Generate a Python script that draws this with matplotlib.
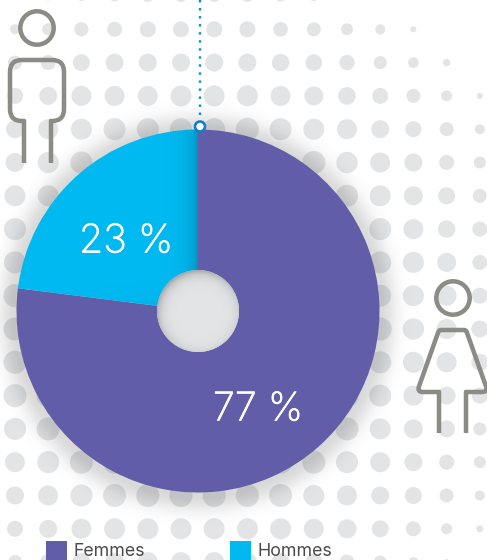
import numpy as np
import matplotlib
matplotlib.use("Agg")
import matplotlib.pyplot as plt
import matplotlib.patheffects as pe
from matplotlib.patches import Circle, Rectangle, PathPatch
from matplotlib.path import Path

# ---- data ----
categories = ["Femmes", "Hommes"]
shares = [77, 23]
labels = ["77 %", "23 %"]
colors = ["#625DA8", "#00B9F1"]

# decorative halftone dots: radius (px) per row / column
dot_x0, dot_dx = 15.0, 33.2
dot_y0, dot_dy = -4.0, 33.3
dot_radii = [
    [4.0, 4.5, 5.0, 5.5, 6.0, 6.0, 6.0, 6.0, 5.5, 5.0, 4.0, 3.0, 0.0, 0.0, 0.0],
    [5.0, 6.0, 7.0, 7.5, 8.0, 8.0, 8.0, 8.0, 7.3, 7.0, 6.0, 5.0, 3.0, 0.0, 0.0],
    [7.0, 7.5, 8.5, 9.0, 9.0, 9.0, 9.0, 9.0, 8.7, 8.3, 7.6, 6.5, 5.3, 3.7, 0.0],
    [8.0, 9.0, 10.0, 10.0, 10.0, 10.5, 10.5, 10.5, 10.0, 9.5, 8.8, 8.0, 7.0, 5.5, 3.0],
    [9.0, 10.0, 10.5, 11.0, 11.0, 11.0, 11.0, 11.5, 11.0, 10.5, 10.0, 9.0, 8.0, 7.0, 5.0],
    [9.5, 10.5, 11.0, 11.5, 11.5, 11.5, 11.5, 11.5, 11.5, 11.5, 10.7, 10.0, 9.0, 7.5, 6.0],
    [10.5, 10.5, 11.0, 11.5, 11.5, 11.5, 11.5, 11.5, 11.5, 11.5, 11.0, 10.5, 9.5, 8.5, 7.0],
    [11.0, 11.0, 11.5, 11.5, 11.5, 11.5, 11.5, 11.5, 11.5, 11.5, 11.5, 11.0, 10.0, 8.7, 7.5],
    [11.0, 11.5, 11.5, 11.5, 11.5, 11.5, 11.5, 11.5, 11.5, 11.5, 11.5, 11.0, 10.5, 9.5, 7.5],
    [11.5, 11.5, 11.5, 11.5, 11.5, 11.5, 11.5, 11.5, 11.5, 11.5, 11.5, 11.0, 10.5, 10.0, 8.0],
    [11.5, 11.5, 11.5, 11.5, 11.5, 11.5, 11.5, 11.5, 11.5, 11.5, 11.5, 11.5, 10.7, 10.0, 8.5],
    [11.5, 11.5, 11.5, 11.5, 11.5, 11.5, 11.5, 11.5, 11.5, 11.5, 11.5, 11.0, 10.5, 10.0, 8.5],
    [11.5, 11.5, 11.5, 11.5, 11.5, 11.5, 11.5, 11.5, 11.5, 11.5, 11.5, 11.0, 10.0, 9.0, 8.0],
    [11.0, 11.5, 11.5, 11.5, 11.5, 11.5, 11.5, 11.5, 11.5, 11.5, 11.5, 10.5, 9.5, 8.5, 6.5],
    [10.0, 11.0, 11.5, 11.5, 11.5, 11.5, 11.5, 11.5, 11.5, 11.5, 11.0, 10.0, 9.0, 7.5, 6.0],
    [9.0, 10.0, 11.0, 11.5, 11.5, 11.5, 11.5, 11.5, 11.5, 10.5, 10.0, 9.0, 8.5, 7.0, 5.0],
    [8.0, 9.0, 10.0, 10.5, 10.5, 10.5, 10.5, 10.5, 10.5, 10.0, 9.5, 8.5, 7.5, 5.5, 3.5],
    [7.0, 8.0, 9.0, 9.5, 10.0, 10.0, 10.0, 9.5, 9.0, 8.5, 7.5, 6.5, 5.0, 3.0, 0.0],
]

W, H = 487, 560
def Y(y):
    return H - y

plt.rcParams["font.family"] = ["Inter", "DejaVu Sans"]
fig = plt.figure(figsize=(W / 100, H / 100), dpi=100, facecolor="white")
ax = fig.add_axes([0, 0, 1, 1])

GREY = "#E3E4E6"
ICON = "#8B8C85"

# halftone background
for j, row in enumerate(dot_radii):
    for i, r in enumerate(row):
        if r > 0:
            ax.add_patch(Circle((dot_x0 + dot_dx * i, Y(dot_y0 + dot_dy * j)), r,
                                fc=GREY, ec="none", zorder=1))

cx, cy, R, hole = 198.0, 311.0, 181.5, 41.0
xs = np.arange(W) + 0.5
ys = np.arange(H) + 0.5
gx, gy = np.meshgrid(xs, ys)
extent = (0, W, 0, H)

# soft outer shadow
d = np.hypot(gx - cx, gy - (cy + 2)) - R
sh = np.zeros((H, W, 4))
sh[..., 3] = 0.15 * np.exp(-(np.clip(d, 0, None) / 17.0) ** 2)
ax.imshow(sh, extent=extent, origin="upper", zorder=2, interpolation="bilinear")

# icons
def rounded(points, rad):
    """Polyline with rounded corners at the listed inner vertices."""
    verts, codes = [points[0]], [Path.MOVETO]
    for k in range(1, len(points) - 1):
        p0, p1, p2 = map(np.array, (points[k - 1], points[k], points[k + 1]))
        r = rad[k - 1]
        a = p1 + (p0 - p1) / np.linalg.norm(p0 - p1) * r
        b = p1 + (p2 - p1) / np.linalg.norm(p2 - p1) * r
        verts += [tuple(a), tuple(p1), tuple(b)]
        codes += [Path.LINETO, Path.CURVE3, Path.CURVE3]
    verts.append(points[-1])
    codes.append(Path.LINETO)
    return Path(verts, codes)

lw_icon = 4.5 * 72 / 100
male = [(24, 163), (24, 121), (10, 121), (10, 60), (64, 60), (64, 121), (51, 121), (51, 163)]
female = [(439, 433), (439, 392), (417, 392), (439, 330), (466, 330), (488, 392), (466, 392), (466, 433)]
for pts, rr in ((male, [0.1, 12, 12, 12, 12, 0.1]), (female, [0.1, 6, 2, 2, 6, 0.1])):
    path = rounded([(x, Y(y)) for x, y in pts], rr)
    ax.add_patch(PathPatch(path, fc="none", ec=ICON, lw=lw_icon, capstyle="butt",
                           joinstyle="miter", zorder=3))
ax.add_patch(Circle((37, Y(28)), 16.7, fc="none", ec=ICON, lw=lw_icon, zorder=3))
ax.add_patch(Circle((453, Y(298)), 16.7, fc="none", ec=ICON, lw=lw_icon, zorder=3))

# donut
wedges, _ = ax.pie(shares, colors=colors, startangle=90, counterclock=False,
                   center=(cx, Y(cy)), radius=R,
                   wedgeprops=dict(width=R - hole, linewidth=0))
for w in wedges:
    w.set_zorder(4)

# shadow of the purple slice falling on the cyan slice
t = np.deg2rad(7.0)
line_d = np.abs((gy - cy) * np.cos(t) + (gx - cx) * np.sin(t))
a1 = 0.20 * np.exp(-np.clip(cx - gx, 0, None) / 9.0)
a2 = 0.10 * np.exp(-line_d / 11.0)
cs = np.zeros((H, W, 4))
cs[..., 3] = 1 - (1 - a1) * (1 - a2)
im = ax.imshow(cs, extent=extent, origin="upper", zorder=5, interpolation="bilinear")
im.set_clip_path(wedges[1])

# hole with inner shadow
hole_patch = Circle((cx, Y(cy)), hole, fc=GREY, ec="none", zorder=6)
ax.add_patch(hole_patch)
dh = np.hypot(gx - (cx + 2), gy - (cy + 3))
hs = np.zeros((H, W, 4))
hs[..., 3] = 0.28 * np.exp(-np.clip(hole + 3 - dh, 0, None) / 5.0)
im2 = ax.imshow(hs, extent=extent, origin="upper", zorder=7, interpolation="bilinear")
im2.set_clip_path(hole_patch)

# dotted leader and ring
ax.plot([200, 200], [Y(0), Y(120)], color="#0A8FD6", lw=2.4 * 72 / 100,
        linestyle=(0, (1.0, 2.35)), dash_capstyle="butt", zorder=8)
ax.add_patch(Circle((200, Y(126.5)), 5.0, fc="white", ec="#0A80C8", lw=2.6 * 72 / 100, zorder=9))

# value labels
label_pos = [(258, 410), (126, 242)]
for lab, (x, y) in zip(labels, label_pos):
    ax.text(x, Y(y), lab, color="white", fontsize=28.5, fontweight="light",
            ha="center", va="center", zorder=10,
            path_effects=[pe.withStroke(linewidth=0.5, foreground="white")])

# legend
leg_x = [46, 230]
for name, col, x in zip(categories, colors, leg_x):
    ax.add_patch(Rectangle((x, 0), 21, 19, fc=col, ec="none", zorder=10))
    ax.text(x + 27.5, Y(555.5), name, color="#4A4A4A", fontsize=12.8, ha="left",
            va="baseline", zorder=10)

ax.set_xlim(0, W)
ax.set_ylim(0, H)
ax.set_aspect("auto")
ax.axis("off")
fig.savefig("out.png", dpi=100, facecolor="white")
